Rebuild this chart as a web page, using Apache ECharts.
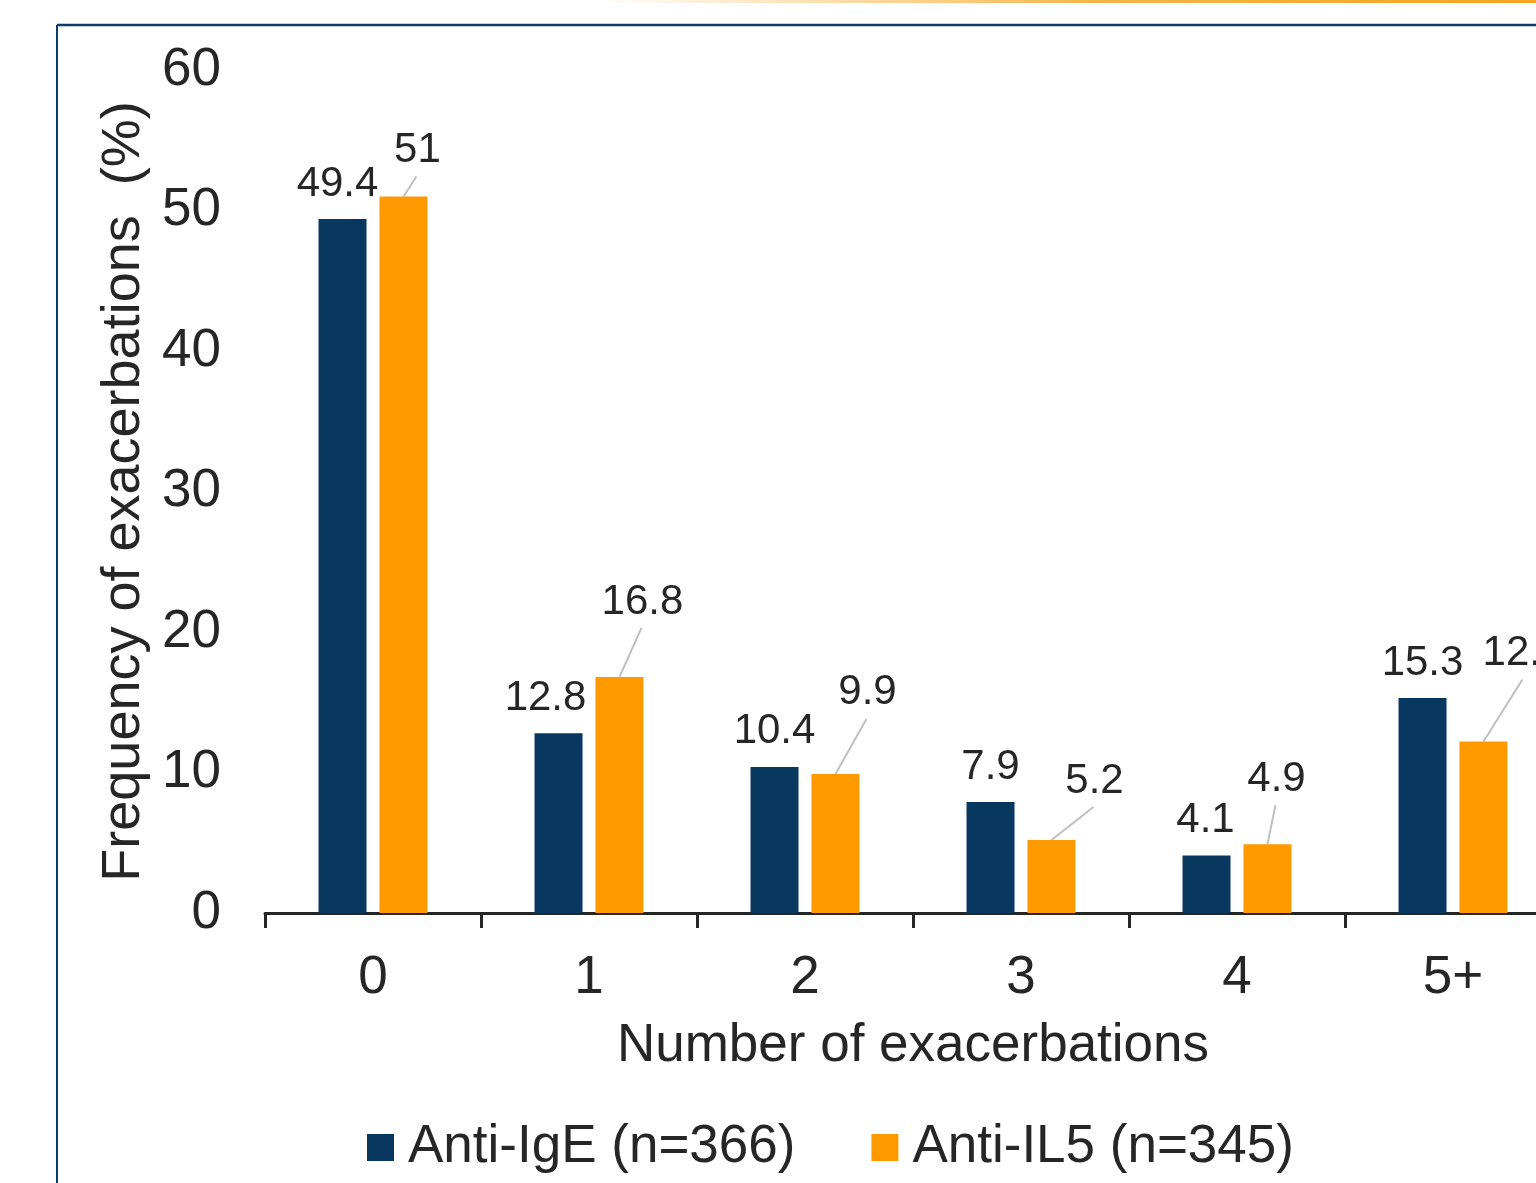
<!DOCTYPE html>
<html>
<head>
<meta charset="utf-8">
<script src="https://cdn.jsdelivr.net/npm/echarts@6/dist/echarts.min.js"></script>
<style>
html,body{margin:0;padding:0;background:#fff;overflow:hidden;width:1536px;height:1183px;}
#chart{width:1600px;height:1183px;}
</style>
</head>
<body>
<div id="chart"></div>
<script>
const categories = ['0', '1', '2', '3', '4', '5+'];
const antiIgE = [49.4, 12.8, 10.4, 7.9, 4.1, 15.3];
const antiIL5 = [51, 16.8, 9.9, 5.2, 4.9, 12.2];
const seriesNames = ['Anti-IgE (n=366)', 'Anti-IL5 (n=345)'];
const yTicks = { min: 0, max: 60, interval: 10 };
// label offsets (px) for the data labels, as placed in the original
const blueLabelOffsets = [[-5, 0], [-13, 0], [0, 0], [0, 0], [-1, 0], [0, 0]];
const orangeLabelOffsets = [[14, -11], [23, -40], [32, -46], [43, -24], [9, -30], [40, -53]];

const FONT = '"Liberation Sans", Arial, sans-serif';
const TEXT = '#262626';
const BLUE = '#08375F';
const ORANGE = '#FF9900';
const LABEL_DIST = 14;
const LABEL_FS = 42;

const chart = echarts.init(document.getElementById('chart'), null, { renderer: 'canvas' });
const frameGraphics = [
  { id: 'topGrad', type: 'rect', left: 600, top: 0, shape: { width: 1000, height: 3 },
    style: { fill: new echarts.graphic.LinearGradient(0, 0, 1, 0, [
      { offset: 0, color: 'rgba(247,162,27,0)' }, { offset: 0.5, color: 'rgba(247,162,27,0.8)' }, { offset: 1, color: '#F7A21B' }]) } },
  { id: 'frameTop', type: 'line', shape: { x1: 57, y1: 25, x2: 1600, y2: 25 }, style: { stroke: '#0B3C6B', lineWidth: 2.5 } },
  { id: 'frameLeft', type: 'line', shape: { x1: 57, y1: 25, x2: 57, y2: 1183 }, style: { stroke: '#0B3C6B', lineWidth: 2 } }
];
chart.setOption({
  animation: false,
  textStyle: { fontFamily: FONT, color: TEXT },
  graphic: frameGraphics,
  grid: { left: 265, right: 39, top: 70, bottom: 270, containLabel: false },
  legend: {
    left: 367, top: 1121, padding: 0,
    itemWidth: 27, itemHeight: 27, itemGap: 76, icon: 'rect',
    textStyle: { fontFamily: FONT, fontSize: 53, color: TEXT, padding: [0, 0, 0, 9] },
    data: seriesNames
  },
  xAxis: {
    type: 'category', data: categories,
    name: 'Number of exacerbations', nameLocation: 'middle', nameGap: 107,
    nameTextStyle: { fontFamily: FONT, fontSize: 53, color: TEXT },
    axisLine: { show: true, lineStyle: { color: TEXT, width: 3 } },
    axisTick: { show: true, length: 15, lineStyle: { color: TEXT, width: 3 } },
    axisLabel: { fontFamily: FONT, fontSize: 53, color: TEXT, margin: 39 }
  },
  yAxis: {
    type: 'value', min: yTicks.min, max: yTicks.max, interval: yTicks.interval,
    name: 'Frequency of exacerbations  (%)', nameLocation: 'middle', nameGap: 108,
    nameTextStyle: { fontFamily: FONT, fontSize: 54, color: TEXT },
    axisLine: { show: false }, axisTick: { show: false }, splitLine: { show: false },
    axisLabel: { fontFamily: FONT, fontSize: 53, color: TEXT, margin: 44 }
  },
  series: [
    {
      name: seriesNames[0], type: 'bar', data: antiIgE,
      barWidth: 48, barGap: '27%',
      itemStyle: { color: BLUE },
      label: { show: true, position: 'top', distance: LABEL_DIST, fontFamily: FONT, fontSize: LABEL_FS, color: TEXT },
      labelLayout: function (p) {
        const o = blueLabelOffsets[p.dataIndex];
        return { dx: o[0], dy: o[1] };
      }
    },
    {
      name: seriesNames[1], type: 'bar', data: antiIL5,
      barWidth: 48, barGap: '27%',
      itemStyle: { color: ORANGE },
      label: { show: true, position: 'top', distance: LABEL_DIST, fontFamily: FONT, fontSize: LABEL_FS, color: TEXT },
      labelLayout: function (p) {
        const o = orangeLabelOffsets[p.dataIndex];
        return { dx: o[0], dy: o[1] };
      }
    }
  ]
});

// leader lines from the orange bars' tops to their moved labels, using the library's bar layout
(function drawLeaders() {
  const data = chart.getModel().getSeriesByIndex(1).getData();
  const lines = [];
  antiIL5.forEach(function (v, i) {
    const l = data.getItemLayout(i);
    if (!l) return;
    const bx = l.x + l.width / 2;
    const top = Math.min(l.y, l.y + l.height);
    const o = orangeLabelOffsets[i];
    const labelCy = top - LABEL_DIST - LABEL_FS / 2 + o[1];
    lines.push({
      id: 'leader' + i, type: 'line', z: 1,
      shape: { x1: bx, y1: top, x2: bx + o[0] - 1, y2: labelCy + 26 },
      style: { stroke: '#BFBFBF', lineWidth: 2 }
    });
  });
  chart.setOption({ graphic: frameGraphics.concat(lines) });
})();
</script>
</body>
</html>
